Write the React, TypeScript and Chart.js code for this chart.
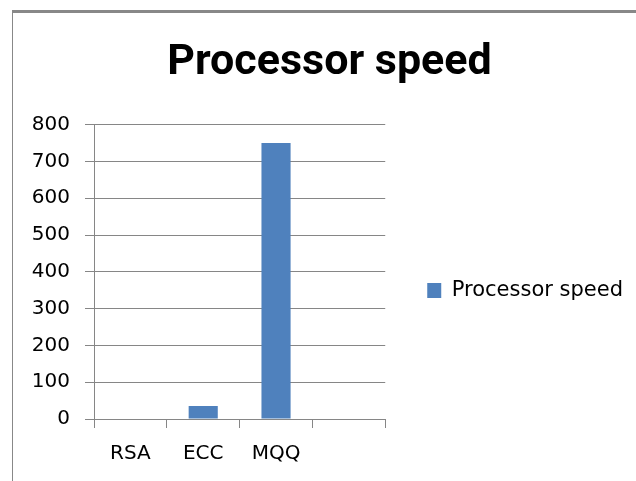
import React, { useEffect, useRef } from "react";
import { Chart, registerables } from "chart.js";

Chart.register(...registerables);

const categories = ["RSA", "ECC", "MQQ", ""];
const processorSpeed = [0, 35, 750, null];
const seriesName = "Processor speed";
const chartTitle = "Processor speed";

const GRID = "#868686";
const BAR = "#4F81BD";

const frame = {
  id: "frame",
  beforeDraw(chart: any) {
    const ctx = chart.ctx;
    ctx.save();
    ctx.fillStyle = "#ffffff";
    ctx.fillRect(0, 0, chart.width, chart.height);
    ctx.fillStyle = "#888888";
    ctx.fillRect(12, 10, chart.width - 12, 3);
    ctx.fillRect(12, 10, 1, chart.height - 10);
    ctx.restore();
  },
};

export default function App() {
  const ref = useRef<HTMLCanvasElement | null>(null);
  useEffect(() => {
    if (!ref.current) return;
    const chart = new Chart(ref.current, {
      type: "bar",
      data: {
        labels: categories,
        datasets: [
          {
            label: seriesName,
            data: processorSpeed,
            backgroundColor: BAR,
            borderColor: BAR,
            borderWidth: 0,
            categoryPercentage: 1,
            barPercentage: 0.4,
          },
        ],
      },
      options: {
        responsive: false,
        animation: false,
        layout: { padding: { left: 26, right: 3, top: 0, bottom: 0 } },
        plugins: {
          title: {
            display: true,
            text: chartTitle,
            color: "#000",
            font: { family: "Roboto", size: 43, weight: "bold" },
            padding: { top: 37, bottom: 36 },
          },
          legend: {
            display: true,
            position: "right",
            fullSize: false,
            maxWidth: 300,
            title: {
              display: true,
              text: " ",
              font: { size: 1 },
              padding: { top: 0, bottom: 36 },
            },
            labels: {
              color: "#000",
              font: { family: "DejaVu Sans", size: 21 },
              boxWidth: 14,
              boxHeight: 15,
              padding: 42,
            },
          },
          tooltip: { enabled: false },
        },
        scales: {
          x: {
            offset: true,
            grid: {
              offset: true,
              drawOnChartArea: false,
              drawTicks: true,
              tickLength: 9,
              color: GRID,
            },
            border: { display: true, color: GRID },
            ticks: {
              color: "#000",
              font: { family: "DejaVu Sans", size: 20 },
              padding: 14,
              maxRotation: 0,
              autoSkip: false,
            },
            afterFit: (scale: any) => {
              scale.height = 62;
            },
          },
          y: {
            min: 0,
            max: 800,
            grid: { color: GRID, tickLength: 9, drawTicks: true },
            border: { display: true, color: GRID },
            ticks: {
              stepSize: 100,
              color: "#000",
              font: { family: "DejaVu Sans", size: 20 },
              padding: 15,
            },
            afterFit: (scale: any) => {
              scale.width = 68;
            },
          },
        },
      },
      plugins: [frame],
    });
    return () => chart.destroy();
  }, []);
  return (
    <div style={{ position: "absolute", left: 0, top: 0, width: 636, height: 481 }}>
      <canvas ref={ref} width={636} height={481} />
    </div>
  );
}
